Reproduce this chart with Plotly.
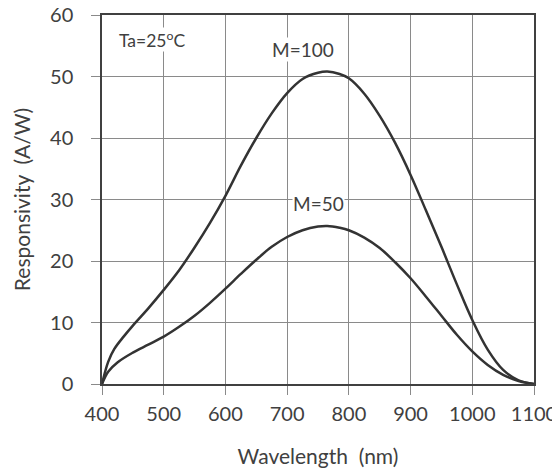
import plotly.graph_objects as go

wavelength_m100 = [400, 410, 420, 435, 450, 475, 500, 525, 550, 575, 600, 625, 650, 675,
                   700, 725, 750, 765, 785, 800, 825, 850, 875, 900, 925, 950, 975,
                   1000, 1025, 1050, 1075, 1100]
resp_m100 = [0, 3.6, 5.7, 7.7, 9.5, 12.3, 15.3, 18.5, 22.2, 26.2, 30.6, 35.5, 40.0, 44.0,
             47.3, 49.6, 50.6, 50.8, 50.4, 49.7, 47.2, 43.6, 39.2, 34.0, 28.2, 22.3, 16.2,
             10.4, 5.6, 2.3, 0.6, 0]

wavelength_m50 = [400, 410, 425, 450, 475, 500, 525, 550, 575, 600, 625, 650, 675, 700,
                  725, 750, 765, 785, 800, 825, 850, 875, 900, 925, 950, 975, 1000,
                  1025, 1050, 1075, 1100]
resp_m50 = [0, 2.0, 3.5, 5.1, 6.4, 7.7, 9.3, 11.1, 13.2, 15.5, 17.9, 20.2, 22.3, 23.9,
            25.0, 25.6, 25.7, 25.4, 25.0, 23.8, 22.1, 19.8, 17.2, 14.2, 11.1, 8.0, 5.3,
            3.1, 1.5, 0.5, 0]

x_ticks = [400, 500, 600, 700, 800, 900, 1000, 1100]
y_ticks = [0, 10, 20, 30, 40, 50, 60]

condition_label = "Ta=25<sup>o</sup>C"
curve_labels = ["M=100", "M=50"]

FONT = "Lato, 'Liberation Sans', sans-serif"
TXT = "#404040"
LINE = "#333333"

fig = go.Figure()
fig.add_trace(go.Scatter(x=wavelength_m100, y=resp_m100, mode="lines",
                         line=dict(color=LINE, width=2.5, shape="spline", smoothing=1.0),
                         showlegend=False, hoverinfo="skip"))
fig.add_trace(go.Scatter(x=wavelength_m50, y=resp_m50, mode="lines",
                         line=dict(color=LINE, width=2.5, shape="spline", smoothing=1.0),
                         showlegend=False, hoverinfo="skip"))

fig.add_annotation(x=481, y=56.0, text=condition_label, showarrow=False, bgcolor="white",
                   font=dict(family=FONT, size=17.5, color=TXT),
                   xanchor="center", yanchor="middle", borderpad=0)
fig.add_annotation(x=726, y=54.4, text=curve_labels[0], showarrow=False, bgcolor="white",
                   font=dict(family=FONT, size=19, color=TXT),
                   xanchor="center", yanchor="middle", borderpad=0)
fig.add_annotation(x=750, y=29.4, text=curve_labels[1], showarrow=False, bgcolor="white",
                   font=dict(family=FONT, size=19, color=TXT),
                   xanchor="center", yanchor="middle", borderpad=0)

fig.update_xaxes(range=[400, 1100], tickvals=x_ticks, ticktext=[str(v) for v in x_ticks],
                 showgrid=True, gridcolor="#8a8a8a", gridwidth=1,
                 showline=True, linecolor="#404040", linewidth=1.5, mirror=True,
                 ticks="outside", ticklen=9, tickcolor="#8a8a8a",
                 ticklabelstandoff=2, ticklabeloverflow="allow",
                 tickfont=dict(family=FONT, size=20, color=TXT),
                 title=dict(text="Wavelength  (nm)", standoff=26,
                            font=dict(family=FONT, size=21, color=TXT)),
                 zeroline=False, automargin=False)
fig.update_yaxes(range=[0, 60], tickvals=y_ticks,
                 showgrid=True, gridcolor="#8a8a8a", gridwidth=1,
                 showline=True, linecolor="#404040", linewidth=1.5, mirror=True,
                 ticks="outside", ticklen=9, tickcolor="#8a8a8a",
                 ticklabelstandoff=14, ticklabeloverflow="allow",
                 tickfont=dict(family=FONT, size=20, color=TXT),
                 title=dict(text="Responsivity  (A/W)", standoff=14,
                            font=dict(family=FONT, size=21, color=TXT)),
                 zeroline=False, automargin=False)

# the page places the figure 8px in from the window's top-left corner
fig.update_layout(width=552, height=464, plot_bgcolor="white", paper_bgcolor="white",
                  margin=dict(l=94, r=26, t=7, b=88))

fig.write_html("out.html")
